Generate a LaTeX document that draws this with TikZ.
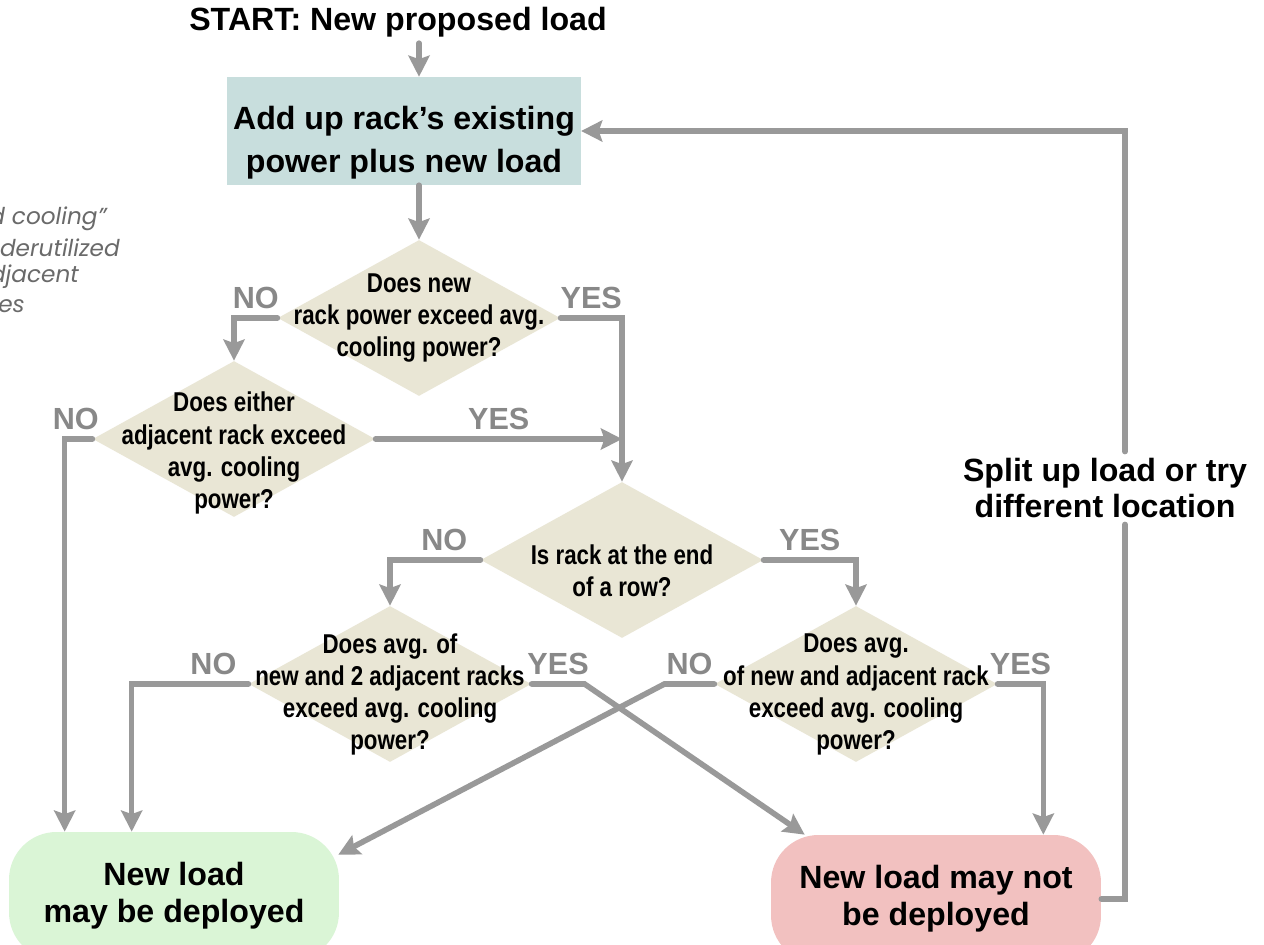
\documentclass[tikz,border=0pt]{standalone}
\usepackage{fontspec}
\setmainfont{Liberation Sans}
\newfontfamily\narrowfont[FakeStretch=0.82]{Liberation Sans}
\newfontfamily\notefont{Poppins}
\usetikzlibrary{shapes.geometric, arrows.meta, calc, positioning}

\definecolor{linkgray}{HTML}{999999}
\definecolor{answergray}{HTML}{888888}
\definecolor{notegray}{HTML}{6A6A6A}
\definecolor{boxteal}{HTML}{C8DEDD}
\definecolor{decisiontan}{HTML}{E9E6D5}
\definecolor{okgreen}{HTML}{DAF5D6}
\definecolor{nopink}{HTML}{F2C1C0}

\tikzstyle{block} = [fill=boxteal, rectangle, align=center,
    minimum width=6.96cm, minimum height=2.12cm,
    font=\bfseries\fontsize{18.3}{24.4}\selectfont]
\tikzstyle{decision} = [diamond, fill=decisiontan, inner sep=0pt,
    minimum width=5.65cm, minimum height=3.12cm]
\tikzstyle{terminal} = [rectangle, rounded corners=0.95cm, align=center,
    minimum width=6.6cm, minimum height=2.56cm,
    font=\bfseries\fontsize{18.3}{21}\selectfont]
\tikzset{
  qtext/.style={align=center, font=\narrowfont\bfseries\fontsize{15.5}{18.3}\selectfont},
  answer/.style={text=answergray, inner sep=3.5pt, font=\bfseries\fontsize{17.4}{17.4}\selectfont},
  headline/.style={font=\bfseries\fontsize{18.3}{21}\selectfont, align=center},
  note/.style={text=notegray, inner sep=0pt, anchor=west, font=\notefont\itshape\fontsize{13.2}{13.2}\selectfont},
  link/.style={draw=linkgray, line width=3.2pt, line cap=round},
  linkarrow/.style={link, -{Stealth[length=12pt, width=12pt, inset=2pt]}},
}

\begin{document}
\begin{tikzpicture}[x=0.02cm, y=-0.02cm]
  \path[use as bounding box, fill=white] (0,0) rectangle (1264,945);

  % clipped side note
  \foreach \notetext/\notex/\notey in {d cooling”/-11/219, underutilized/-30/248, adjacent/-26/277, es/-2/306}
    \node[note] (note\notey) at (\notex,\notey) {\notetext};

  \node (start) at (398,22) [headline] {START: New proposed load};
  \node (box) at (404,131) [block] {\rule{0pt}{26.5pt}Add up rack’s existing\\power plus new load};

  \node (d1) at (419,318) [decision, label={[qtext]center:{Does new\\rack power exceed avg.\\cooling power?}}] {};
  \node (d2) at (234,439) [decision, label={[qtext, yshift=-8]center:{Does either\\adjacent rack exceed\\avg. cooling\\power?}}] {};
  \node (d3) at (622,560) [decision, label={[qtext, yshift=-6]center:{Is rack at the end\\of a row?}}] {};
  \node (d4) at (390,684) [decision, label={[qtext, yshift=-6]center:{Does avg. of\\new and 2 adjacent racks\\exceed avg. cooling\\power?}}] {};
  \node (d5) at (856,684) [decision, label={[qtext, yshift=-6]center:{Does avg.\\of new and adjacent rack\\exceed avg. cooling\\power?}}] {};

  \node (good) at (174,896) [terminal, fill=okgreen] {New load\\may be deployed};
  \node (bad) at (936,899) [terminal, fill=nopink] {New load may not\\be deployed};

  \node (split) at (1105,488) [headline] {Split up load or try\\different location};
  \coordinate (loopx) at (1125,0);

  \draw [linkarrow] (start.south -| d1.north) -- (box.north -| d1.north);
  \draw [linkarrow] (box.south -| d1.north) -- (d1.north);
  \draw [linkarrow] (d1.west) -| node[answer, above, pos=.25] {NO} (d2.north);
  \draw [linkarrow] (d1.east) -| node[answer, above, pos=.25] {YES} (d3.north);
  \draw [linkarrow] (d2.west) -| node[answer, above, pos=.3] {NO} ($(good.north west)+(56,0)$);
  \draw [linkarrow] (d2.east) -- node[answer, above] {YES} (d2.east -| d3.north);
  \draw [linkarrow] (d3.west) -| node[answer, above, pos=.2] {NO} (d4.north);
  \draw [linkarrow] (d3.east) -| node[answer, above, pos=.25] {YES} (d5.north);
  \draw [linkarrow] (d4.west) -| node[answer, above, pos=.15] {NO} ($(good.north west)+(123,0)$);
  \draw [linkarrow] (d4.east) -- node[answer, above] {YES} ++(53,0) -- ($(bad.north west)+(34,0)$);
  \draw [linkarrow] (d5.west) -- node[answer, above] {NO} ++(-50,0) -- ($(good.north east)+(-1,23)$);
  \draw [linkarrow] (d5.east) -| node[answer, above, pos=.25] {YES} ($(bad.north east)+(-58,0)$);
  \draw [link] (bad.east) -| (split.south -| loopx);
  \draw [linkarrow] (split.north -| loopx) |- (box.east);
\end{tikzpicture}
\end{document}
